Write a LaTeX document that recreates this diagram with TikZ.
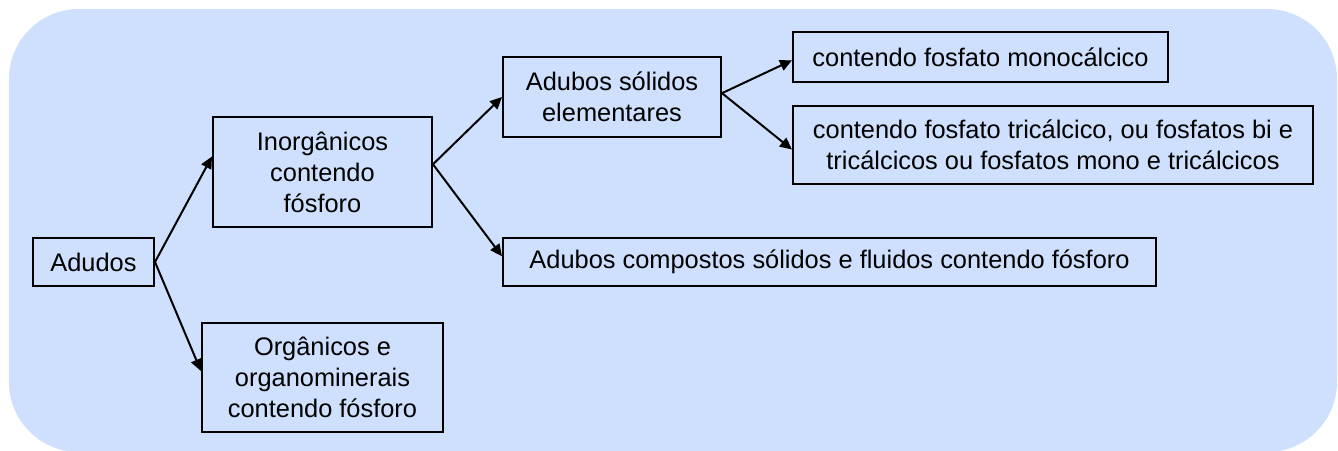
\documentclass[tikz,border=0pt]{standalone}
\usepackage{fontspec}
\setmainfont{Liberation Sans}
\usetikzlibrary{arrows.meta}
\definecolor{panelblue}{RGB}{206,224,253}
\begin{document}
\begin{tikzpicture}[x=0.5pt,y=-0.5pt,
    box/.style={draw,line width=1pt,align=center,inner sep=0pt,
      font=\fontsize{12.7}{15.5}\selectfont},
    link/.style={line width=1pt,-{Triangle[length=6pt,width=5.5pt]}}]
  \useasboundingbox (0,0) rectangle (1338,450);
  \fill[panelblue,rounded corners=35pt] (9,9) rectangle (1337,452);
  \node[box,minimum width=60.5pt,minimum height=24pt] (adudos) at (93.5,262) {Adudos};
  \node[box,minimum width=109.5pt,minimum height=55pt] (inorg) at (322.5,172) {Inorgânicos\\contendo\\fósforo};
  \node[box,minimum width=120.5pt,minimum height=54.5pt] (org) at (322.5,377.5) {Orgânicos e\\organominerais\\contendo fósforo};
  \node[box,minimum width=109pt,minimum height=40pt] (solidos) at (612,97) {Adubos sólidos\\elementares};
  \node[box,minimum width=187.5pt,minimum height=25pt] (mono) at (980.5,57) {contendo fosfato monocálcico};
  \node[box,minimum width=260pt,minimum height=39pt] (tri) at (1053,145) {contendo fosfato tricálcico, ou fosfatos bi e\\tricálcicos ou fosfatos mono e tricálcicos};
  \node[box,minimum width=326.5pt,minimum height=24pt] (compostos) at (829.5,262) {Adubos compostos sólidos e fluidos contendo fósforo};
  \begin{scope}[link]
    \draw (adudos.east) to (inorg.172);
    \draw (adudos.east) to (org.177);
    \draw (inorg.4) to (solidos.west);
    \draw (inorg.4) to (compostos.179);
    \draw (solidos.2) to (mono.181);
    \draw (solidos.2) to (tri.181);
  \end{scope}
\end{tikzpicture}
\end{document}
